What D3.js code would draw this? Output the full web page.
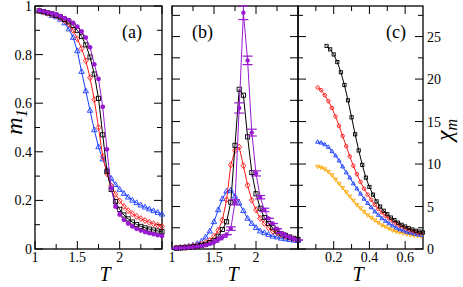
<!DOCTYPE html>
<html><head><meta charset="utf-8">
<script src="https://cdn.jsdelivr.net/npm/d3@7"></script>
<style>body{margin:0;background:#fff}svg{display:block}</style>
</head><body><svg id="c" width="463" height="287"></svg>
<script>
// ---------- data ----------
const tA = [1.05,1.1,1.15,1.2,1.25,1.3,1.35,1.4,1.45,1.5,1.55,1.6,1.65,1.7,1.75,1.8,1.85,1.9,1.95,2.0,2.05,2.1,2.15,2.2,2.25,2.3,2.35,2.4,2.45,2.5];
// panel (a): m1
const aBlue   = [0.98,0.975,0.97,0.96,0.955,0.945,0.93,0.905,0.87,0.815,0.73,0.65,0.57,0.49,0.42,0.37,0.325,0.29,0.265,0.245,0.228,0.213,0.2,0.19,0.18,0.172,0.164,0.157,0.15,0.143];
const aRed    = [0.98,0.975,0.97,0.965,0.96,0.95,0.94,0.925,0.9,0.865,0.825,0.775,0.705,0.615,0.5,0.38,0.31,0.26,0.225,0.198,0.175,0.158,0.145,0.134,0.125,0.117,0.11,0.104,0.098,0.093];
const aBlack  = [0.98,0.977,0.972,0.968,0.962,0.955,0.945,0.935,0.92,0.9,0.875,0.84,0.79,0.72,0.62,0.47,0.32,0.245,0.195,0.163,0.14,0.124,0.111,0.101,0.093,0.087,0.082,0.078,0.074,0.071];
const aPurple = [0.982,0.978,0.974,0.97,0.965,0.958,0.95,0.942,0.93,0.915,0.895,0.87,0.83,0.76,0.7,0.585,0.41,0.25,0.175,0.142,0.12,0.105,0.093,0.083,0.076,0.07,0.065,0.061,0.057,0.054];
// panel (b): susceptibility vs T
const bBlue   = [0.12,0.18,0.25,0.32,0.45,0.62,0.88,1.4,2.1,3.2,4.6,5.9,6.8,6.9,6.2,5.4,4.5,3.6,3.0,2.5,2.1,1.9,1.7,1.5,1.4,1.25,1.18,1.1,1.02,0.98];
const bRed    = [0.12,0.15,0.2,0.25,0.32,0.42,0.55,0.75,1.0,1.5,2.2,3.4,5.8,9.9,11.6,12.0,9.8,7.5,5.75,4.6,3.6,3.0,2.5,2.1,1.9,1.7,1.5,1.35,1.2,1.08];
const bBlack  = [0.1,0.12,0.15,0.2,0.25,0.32,0.42,0.55,0.75,1.0,1.5,2.3,3.2,5.5,12.2,18.8,18.1,13.2,9.0,6.5,4.8,3.7,3.0,2.5,2.1,1.8,1.6,1.4,1.25,1.12];
const bPurple = [0.1,0.12,0.15,0.18,0.22,0.28,0.36,0.45,0.6,0.8,1.1,1.4,1.7,2.4,5.5,16.6,27.8,22.2,13.7,8.9,6.1,4.6,3.6,3.0,2.4,1.9,1.6,1.4,1.2,1.05];
const bPurpleErr = [0,0,0,0,0,0,0,0,0,0,0,0,0,0.2,0.3,0.6,0.8,0.5,0.4,0.3,0.2,0.2,0,0,0,0,0,0,0,0];
// panel (c): chi_m vs T
const cBlackT = [0.16,0.18,0.2,0.22,0.24,0.26,0.28,0.3,0.32,0.34,0.36,0.38,0.4,0.42,0.44,0.46,0.48,0.5,0.52,0.54,0.56,0.58,0.6,0.62,0.64,0.66,0.68,0.7];
const cBlack  = [23.9,23.5,22.9,22.0,20.8,19.3,17.5,15.5,13.5,11.6,9.9,8.4,7.3,6.4,5.6,5.0,4.5,4.1,3.7,3.4,3.1,2.85,2.65,2.45,2.3,2.15,2.05,1.95];
const cRedT   = [0.11,0.13,0.15,0.17,0.19,0.21,0.23,0.25,0.27,0.29,0.31,0.33,0.35,0.37,0.39,0.41,0.43,0.45,0.47,0.49,0.51,0.53,0.55,0.57,0.59,0.61,0.63,0.65,0.67,0.69];
const cRed    = [19.0,18.7,18.1,17.4,16.6,15.6,14.5,13.3,12.1,10.9,9.8,8.8,7.9,7.1,6.4,5.8,5.2,4.7,4.3,3.9,3.6,3.3,3.0,2.75,2.55,2.35,2.2,2.05,1.95,1.85];
const cBlueT  = [0.11,0.13,0.15,0.17,0.19,0.21,0.23,0.25,0.27,0.29,0.31,0.33,0.35,0.37,0.39,0.41,0.43,0.45,0.47,0.49,0.51,0.53,0.55,0.57,0.59,0.61,0.63,0.65,0.67,0.69];
const cBlue   = [12.6,12.5,12.3,12.0,11.5,11.0,10.4,9.7,9.0,8.4,7.7,7.1,6.5,5.9,5.4,4.9,4.4,4.0,3.6,3.3,3.0,2.75,2.5,2.3,2.15,2.0,1.9,1.8,1.7,1.65];
const cOrangeT= [0.11,0.13,0.15,0.17,0.19,0.21,0.23,0.25,0.27,0.29,0.31,0.33,0.35,0.37,0.39,0.41,0.43,0.45,0.47,0.49,0.51,0.53,0.55,0.57,0.59,0.61,0.63,0.65,0.67,0.69];
const cOrange = [9.7,9.6,9.4,9.1,8.7,8.2,7.7,7.2,6.7,6.2,5.7,5.2,4.8,4.4,4.0,3.7,3.4,3.1,2.8,2.6,2.4,2.2,2.05,1.95,1.85,1.75,1.65,1.6,1.55,1.5];

const xTickLabelsAB = ["1","1.5","2"];
const yTickLabelsA = ["0","0.2","0.4","0.6","0.8","1"];
const xTickLabelsC = ["0.2","0.4","0.6"];
const yTickLabelsC = ["0","5","10","15","20","25"];

const COL = {blue:"#1a3cff", red:"#ff1a1a", black:"#000000", purple:"#9a1ad2", orange:"#ffa500"};

// ---------- drawing ----------
const svg = d3.select("#c");
const FONT = "'Liberation Serif', 'Times New Roman', Times, 'DejaVu Serif', serif";
const TOP = 6, BOT = 249;

function frame(g, L, R, xs, ys, xMaj, xMin, yMaj, yMin){
  g.append("rect").attr("x",L).attr("y",TOP).attr("width",R-L).attr("height",BOT-TOP)
    .attr("fill","none").attr("stroke","#000").attr("stroke-width",1.3);
  const MJ=8, MN=5;
  xMaj.forEach(v=>{const x=xs(v);
    g.append("line").attr("x1",x).attr("x2",x).attr("y1",BOT).attr("y2",BOT-MJ).attr("stroke","#000");
    g.append("line").attr("x1",x).attr("x2",x).attr("y1",TOP).attr("y2",TOP+MJ).attr("stroke","#000");});
  xMin.forEach(v=>{const x=xs(v);
    g.append("line").attr("x1",x).attr("x2",x).attr("y1",BOT).attr("y2",BOT-MN).attr("stroke","#000");
    g.append("line").attr("x1",x).attr("x2",x).attr("y1",TOP).attr("y2",TOP+MN).attr("stroke","#000");});
  yMaj.forEach(v=>{const y=ys(v);
    g.append("line").attr("x1",L).attr("x2",L+MJ).attr("y1",y).attr("y2",y).attr("stroke","#000");
    g.append("line").attr("x1",R).attr("x2",R-MJ).attr("y1",y).attr("y2",y).attr("stroke","#000");});
  yMin.forEach(v=>{const y=ys(v);
    g.append("line").attr("x1",L).attr("x2",L+MN).attr("y1",y).attr("y2",y).attr("stroke","#000");
    g.append("line").attr("x1",R).attr("x2",R-MN).attr("y1",y).attr("y2",y).attr("stroke","#000");});
}

function marker(g, type, x, y, color, s){
  if(type==="tri"){
    g.append("path").attr("d",`M${x},${y-s}L${x+s*0.9},${y+s*0.6}L${x-s*0.9},${y+s*0.6}Z`).attr("fill","none").attr("stroke",color).attr("stroke-width",0.9);
  } else if(type==="tridown"){
    g.append("path").attr("d",`M${x},${y+s}L${x+s*0.9},${y-s*0.6}L${x-s*0.9},${y-s*0.6}Z`).attr("fill","none").attr("stroke",color).attr("stroke-width",0.9);
  } else if(type==="dia"){
    g.append("path").attr("d",`M${x},${y-s}L${x+s*0.8},${y}L${x},${y+s}L${x-s*0.8},${y}Z`).attr("fill","none").attr("stroke",color).attr("stroke-width",0.9);
  } else if(type==="sq"){
    g.append("rect").attr("x",x-s*0.8).attr("y",y-s*0.8).attr("width",s*1.6).attr("height",s*1.6).attr("fill","none").attr("stroke",color).attr("stroke-width",0.9);
  } else if(type==="circ"){
    g.append("circle").attr("cx",x).attr("cy",y).attr("r",s*0.8).attr("fill","none").attr("stroke",color).attr("stroke-width",0.9);
  } else if(type==="dot"){
    g.append("circle").attr("cx",x).attr("cy",y).attr("r",s).attr("fill",color);
  }
}

function series(g, xs, ys, T, V, color, type, s, lw){
  const line = d3.line().x((d,i)=>xs(T[i])).y(d=>ys(d));
  g.append("path").attr("d",line(V)).attr("fill","none").attr("stroke",color).attr("stroke-width",lw||1);
  V.forEach((v,i)=>marker(g,type,xs(T[i]),ys(v),color,s));
}

function label(g,x,y,t,size,anchor){
  return g.append("text").attr("x",x).attr("y",y).attr("text-anchor",anchor||"middle")
    .attr("font-family",FONT).style("font-family",FONT).attr("font-size",size).text(t);
}

// Panel (a)
const xa = d3.scaleLinear().domain([1,2.5]).range([35,162]);
const ya = d3.scaleLinear().domain([0,1]).range([BOT,TOP]);
const gA = svg.append("g");
frame(gA,35,162,xa,ya,[1,1.5,2,2.5],[1.25,1.75,2.25],[0,0.2,0.4,0.6,0.8,1],[0.1,0.3,0.5,0.7,0.9]);
const gAd = svg.append("g");
series(gAd,xa,ya,tA,aBlue,COL.blue,"tri",3);
series(gAd,xa,ya,tA,aRed,COL.red,"dia",3);
series(gAd,xa,ya,tA,aBlack,COL.black,"sq",2.6);
series(gAd,xa,ya,tA,aPurple,COL.purple,"dot",2.4);
xTickLabelsAB.forEach(t=>label(gA,xa(+t),262,t,14));
yTickLabelsA.forEach(t=>label(gA,32,ya(+t)+5,t,14,"end"));
label(gA,142,38,"(a)",18,"end");

// Panel (b)
const xb = d3.scaleLinear().domain([1,2.5]).range([172,298]);
const yb = d3.scaleLinear().domain([0,28.6]).range([BOT,TOP]);
const gB = svg.append("g");
frame(gB,172,298,xb,yb,[1,1.5,2,2.5],[1.25,1.75,2.25],d3.range(0,28.6,2.5),[]);
const gBd = svg.append("g");
series(gBd,xb,yb,tA,bBlue,COL.blue,"tri",3);
series(gBd,xb,yb,tA,bRed,COL.red,"dia",3);
series(gBd,xb,yb,tA,bBlack,COL.black,"sq",2.6);
series(gBd,xb,yb,tA,bPurple,COL.purple,"dot",2.2);
bPurple.forEach((v,i)=>{const x=xb(tA[i]);const e=bPurpleErr[i];
  gBd.append("line").attr("x1",x).attr("x2",x).attr("y1",yb(v-e)).attr("y2",yb(v+e)).attr("stroke",COL.purple);
  [v-e,v+e].forEach(w=>gBd.append("line").attr("x1",x-5).attr("x2",x+5).attr("y1",yb(w)).attr("y2",yb(w)).attr("stroke",COL.purple).attr("stroke-width",1.2));});
xTickLabelsAB.forEach(t=>label(gB,xb(+t),262,t,14));
label(gB,213,38,"(b)",18,"end");

// Panel (c)
const xc = d3.scaleLinear().domain([0,0.7]).range([298,423]);
const yc = d3.scaleLinear().domain([0,28.6]).range([BOT,TOP]);
const gC = svg.append("g");
frame(gC,298,423,xc,yc,[0.2,0.4,0.6],[0.1,0.3,0.5],[0,5,10,15,20,25],[2.5,7.5,12.5,17.5,22.5,27.5]);
const gCd = svg.append("g");
series(gCd,xc,yc,cOrangeT,cOrange,COL.orange,"tridown",2.2);
series(gCd,xc,yc,cBlueT,cBlue,COL.blue,"tri",2.2);
series(gCd,xc,yc,cRedT,cRed,COL.red,"circ",2.2);
series(gCd,xc,yc,cBlackT,cBlack,COL.black,"sq",2);
xTickLabelsC.forEach(t=>label(gC,xc(+t),262,t,14));
yTickLabelsC.forEach(t=>label(gC,427,yc(+t)+5,t,14,"start"));
label(gC,406,38,"(c)",18,"end");

// axis titles
[105,233,358].forEach(x=>label(svg,x,281,"T",20).attr("font-style","italic"));
const m1 = svg.append("text").attr("transform","translate(22,122) rotate(-90)").attr("text-anchor","middle")
  .attr("font-family",FONT).style("font-family",FONT).attr("font-style","italic").attr("font-size",24);
m1.append("tspan").text("m");
m1.append("tspan").attr("font-size",16).attr("dy",5).text("1");
const chi = svg.append("text").attr("transform","translate(452,130) rotate(-90)").attr("text-anchor","middle")
  .attr("font-family",FONT).style("font-family",FONT).attr("font-size",24);
chi.append("tspan").attr("font-style","italic").text("χ");
chi.append("tspan").attr("font-style","italic").attr("font-size",16).attr("dy",5).text("m");
</script></body></html>
